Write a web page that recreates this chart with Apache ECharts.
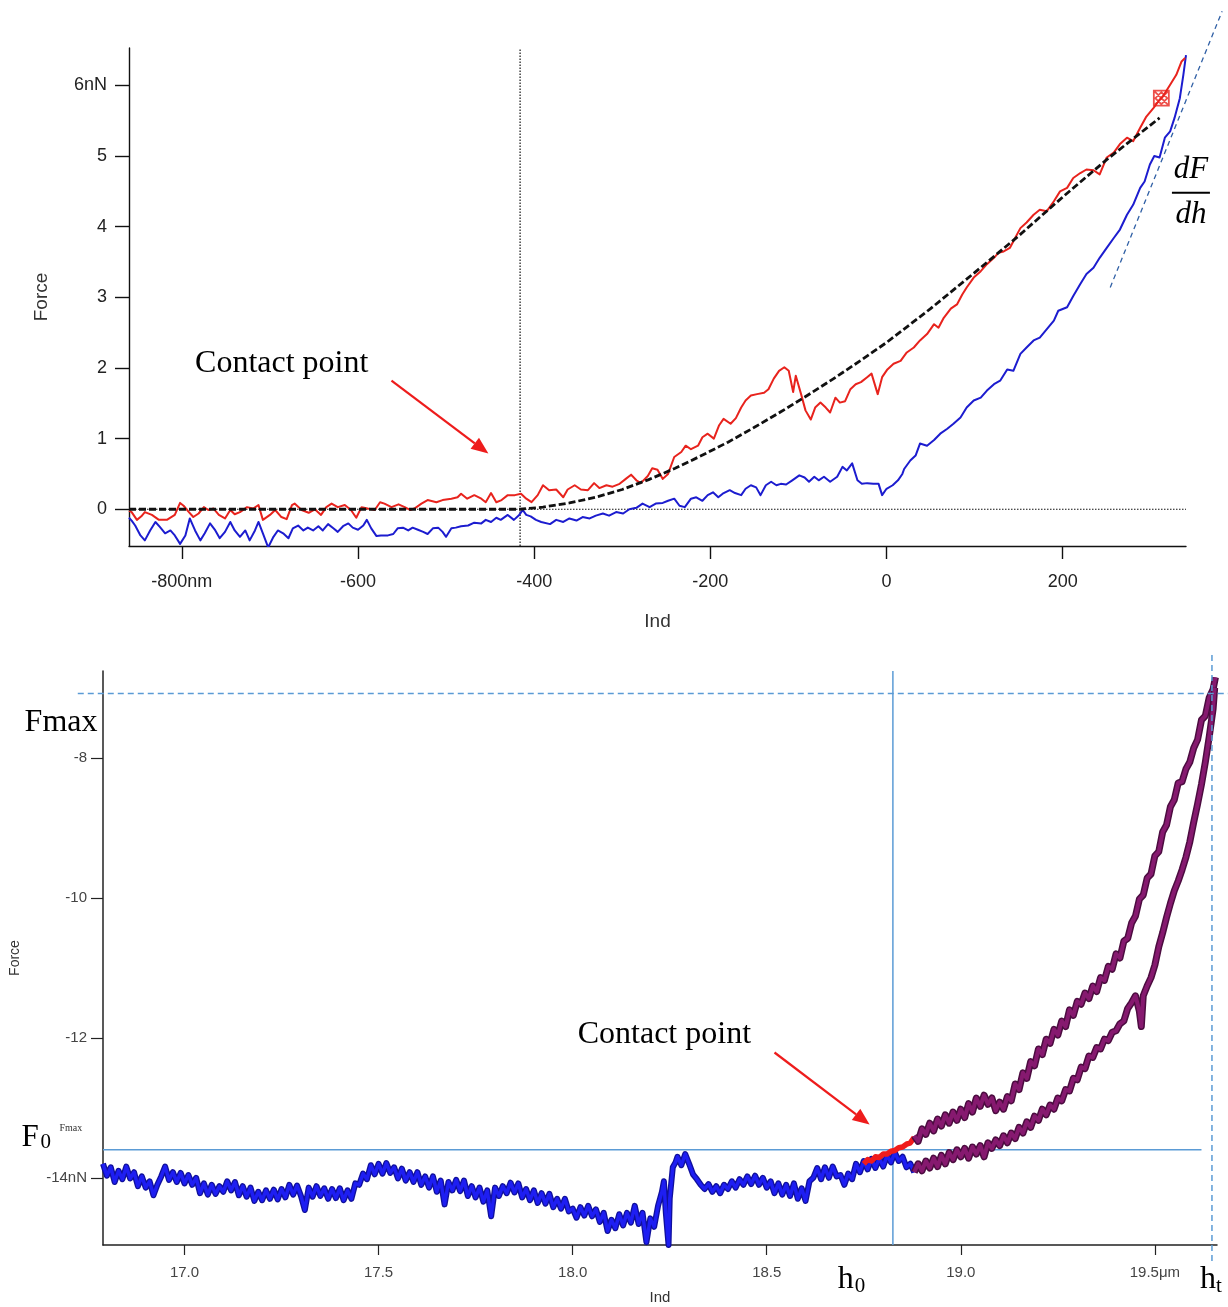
<!DOCTYPE html>
<html>
<head>
<meta charset="utf-8">
<script src="https://cdn.jsdelivr.net/npm/echarts@6/dist/echarts.min.js"></script>
<style>
  html, body { margin: 0; padding: 0; background: #ffffff; }
  #chart { width: 1228px; height: 1307px; }
</style>
</head>
<body>
<div id="chart"></div>
<script>
// ===== Upper panel: force (nN) vs indentation (nm) =====
const topIndTicks = [-800, -600, -400, -200, 0, 200];
const topForceTicks = [0, 1, 2, 3, 4, 5, 6];
const topIndRange = [-860, 340];
const topForceRange = [-0.52, 6.53];

// approach curve (red)
const approachTop = [
  [-860,-0.02],[-857,-0.04],[-851,-0.15],[-846,-0.1],[-842,-0.04],[-834,-0.08],[-826,-0.15],[-817,-0.15],[-808,-0.08],[-802,0.09],
  [-798,0.05],[-792,-0.04],[-787,-0.11],[-781,-0.06],[-775,0.03],[-770,-0.01],[-764,0.01],[-758,-0.08],[-751,-0.13],[-745,-0.01],
  [-740,-0.07],[-734,-0.04],[-726,0.03],[-719,0.01],[-713,0.06],[-708,-0.15],[-700,-0.08],[-694,-0.01],[-687,-0.11],[-681,-0.14],
  [-675,0.06],[-672,0.08],[-664,-0.01],[-656,-0.05],[-649,0],[-642,-0.08],[-636,0.03],[-630,0.08],[-623,0.03],[-615,0.06],
  [-608,-0.01],[-602,-0.12],[-596,0.03],[-589,0.01],[-581,-0.01],[-575,0.1],[-570,0.08],[-562,0.03],[-554,0.07],[-547,0.03],
  [-541,-0.01],[-536,0.01],[-528,0.08],[-521,0.13],[-511,0.1],[-504,0.13],[-494,0.15],[-487,0.17],[-483,0.22],[-476,0.15],
  [-468,0.2],[-460,0.15],[-455,0.1],[-449,0.23],[-443,0.1],[-437,0.13],[-430,0.2],[-422,0.2],[-415,0.22],[-409,0.15],
  [-403,0.1],[-396,0.2],[-390,0.34],[-383,0.27],[-375,0.28],[-367,0.17],[-362,0.28],[-354,0.34],[-347,0.28],[-339,0.27],
  [-332,0.37],[-326,0.3],[-318,0.34],[-311,0.32],[-303,0.36],[-296,0.43],[-290,0.49],[-284,0.41],[-279,0.37],[-271,0.47],
  [-266,0.58],[-260,0.56],[-254,0.43],[-248,0.5],[-241,0.74],[-233,0.81],[-228,0.9],[-222,0.85],[-214,0.9],[-209,1.02],
  [-203,1.07],[-196,1.0],[-190,1.19],[-185,1.28],[-177,1.21],[-171,1.29],[-165,1.44],[-160,1.54],[-154,1.61],[-147,1.63],
  [-139,1.65],[-134,1.7],[-128,1.85],[-122,1.96],[-116,2.01],[-111,1.96],[-106,1.66],[-103,1.89],[-97,1.63],[-92,1.4],
  [-86,1.27],[-81,1.44],[-75,1.51],[-69,1.44],[-64,1.37],[-58,1.58],[-53,1.51],[-47,1.53],[-41,1.7],[-35,1.77],
  [-29,1.8],[-22,1.87],[-17,1.92],[-10,1.63],[-5,1.87],[1,1.98],[8,2.06],[16,2.1],[23,2.22],[31,2.29],
  [38,2.39],[46,2.48],[54,2.62],[59,2.57],[65,2.71],[73,2.84],[80,2.9],[86,3.04],[91,3.14],[99,3.28],
  [107,3.37],[114,3.47],[122,3.56],[127,3.63],[133,3.65],[140,3.7],[146,3.84],[152,3.98],[159,4.06],[167,4.17],
  [174,4.24],[182,4.22],[190,4.36],[197,4.5],[205,4.55],[212,4.69],[220,4.76],[227,4.81],[235,4.8],[242,4.74],
  [250,4.98],[258,5.05],[265,5.17],[273,5.26],[280,5.21],[288,5.4],[295,5.56],[303,5.68],[309,5.78],[314,5.85],
  [322,6.01],[329,6.15],[335,6.34],[339,6.39]
];

// retract curve (blue)
const retractTop = [
  [-860,-0.12],[-857,-0.16],[-853,-0.23],[-847,-0.37],[-842,-0.44],[-836,-0.3],[-830,-0.18],[-825,-0.25],[-819,-0.34],[-813,-0.3],
  [-808,-0.37],[-802,-0.49],[-796,-0.37],[-791,-0.13],[-785,-0.3],[-779,-0.44],[-774,-0.34],[-768,-0.2],[-762,-0.3],[-757,-0.41],
  [-751,-0.32],[-745,-0.18],[-740,-0.3],[-734,-0.39],[-728,-0.3],[-723,-0.44],[-717,-0.3],[-713,-0.18],[-708,-0.34],[-702,-0.54],
  [-696,-0.39],[-691,-0.3],[-685,-0.34],[-679,-0.41],[-674,-0.27],[-668,-0.23],[-662,-0.3],[-657,-0.26],[-651,-0.3],[-645,-0.24],
  [-640,-0.3],[-634,-0.21],[-628,-0.27],[-623,-0.32],[-617,-0.24],[-611,-0.2],[-606,-0.26],[-600,-0.29],[-594,-0.23],[-590,-0.15],
  [-585,-0.27],[-579,-0.38],[-574,-0.37],[-566,-0.37],[-560,-0.35],[-555,-0.27],[-549,-0.26],[-543,-0.3],[-538,-0.26],[-532,-0.29],
  [-526,-0.32],[-521,-0.35],[-515,-0.27],[-509,-0.26],[-504,-0.32],[-500,-0.39],[-494,-0.27],[-489,-0.26],[-483,-0.24],[-475,-0.23],
  [-468,-0.19],[-460,-0.2],[-455,-0.15],[-449,-0.18],[-443,-0.12],[-438,-0.15],[-430,-0.08],[-423,-0.15],[-417,-0.08],[-413,-0.01],
  [-409,-0.08],[-404,-0.1],[-398,-0.15],[-392,-0.18],[-390,-0.18],[-382,-0.21],[-375,-0.15],[-367,-0.18],[-360,-0.13],[-352,-0.16],
  [-345,-0.11],[-337,-0.13],[-330,-0.09],[-322,-0.06],[-315,-0.09],[-307,-0.04],[-299,-0.06],[-292,0],[-284,0.02],[-277,0.08],
  [-269,0.03],[-262,0.08],[-254,0.09],[-248,0.12],[-241,0.15],[-235,0.05],[-229,0.03],[-222,0.15],[-216,0.17],[-209,0.12],
  [-203,0.2],[-197,0.24],[-191,0.17],[-186,0.22],[-178,0.27],[-172,0.23],[-165,0.2],[-160,0.29],[-154,0.34],[-148,0.31],
  [-143,0.2],[-137,0.34],[-131,0.39],[-125,0.34],[-120,0.36],[-114,0.35],[-107,0.41],[-99,0.48],[-93,0.45],[-88,0.39],
  [-82,0.46],[-77,0.41],[-71,0.46],[-64,0.39],[-56,0.46],[-50,0.6],[-45,0.55],[-39,0.65],[-33,0.41],[-28,0.36],
  [-22,0.37],[-15,0.36],[-9,0.36],[-5,0.2],[0,0.29],[7,0.34],[13,0.41],[18,0.5],[20,0.57],[27,0.69],
  [33,0.76],[38,0.93],[46,0.9],[54,0.98],[61,1.07],[69,1.14],[76,1.21],[84,1.3],[91,1.44],[99,1.54],
  [107,1.58],[114,1.68],[122,1.77],[129,1.82],[137,1.98],[144,1.96],[152,2.2],[159,2.29],[167,2.39],[174,2.43],
  [182,2.55],[190,2.67],[195,2.81],[205,2.86],[212,3.02],[220,3.19],[227,3.33],[235,3.42],[242,3.56],[250,3.7],
  [258,3.84],[265,3.96],[273,4.17],[280,4.31],[288,4.55],[293,4.64],[299,4.88],[304,5.0],[310,4.98],[316,5.26],
  [322,5.35],[327,5.54],[333,5.82],[337,6.15],[340,6.43]
];

// contact-model fit (black dashed)
const hertzFit = [
  [-860,0],[-416,0],[-390,0.03],[-360,0.09],[-330,0.17],[-300,0.28],[-270,0.42],[-240,0.58],[-210,0.76],[-180,0.95],
  [-150,1.16],[-120,1.38],[-90,1.61],[-60,1.85],[-30,2.1],[0,2.36],[50,2.84],[100,3.35],[150,3.87],[200,4.42],
  [250,4.95],[310,5.54]
];

const topContactInd = -416;
const topTangent = [[254, 3.14], [381, 7.05]];
const topMaxMarker = [[312, 5.82]];

// ===== Lower panel: force (nN) vs indentation (µm) =====
const lowIndTicks = [17.0, 17.5, 18.0, 18.5, 19.0, 19.5];
const lowForceTicks = [-14, -12, -10, -8];
const lowIndRange = [16.79, 19.66];
const lowForceRange = [-14.96, -6.76];

// baseline before contact (blue)
const lowBaseline = [
  [16.79,-13.80],[16.80,-13.97],[16.81,-13.85],[16.82,-14.06],[16.83,-13.90],[16.84,-14.02],[16.85,-13.84],[16.86,-14.01],[16.87,-13.92],[16.88,-14.12],
  [16.89,-13.98],[16.90,-14.14],[16.91,-14.05],[16.92,-14.25],[16.93,-14.10],[16.94,-13.98],[16.95,-13.84],[16.96,-14.03],[16.97,-13.92],[16.98,-14.06],
  [16.99,-13.93],[17.00,-14.08],[17.01,-13.96],[17.02,-14.10],[17.03,-14.00],[17.04,-14.22],[17.05,-14.08],[17.06,-14.24],[17.07,-14.10],[17.08,-14.23],
  [17.09,-14.12],[17.10,-14.20],[17.11,-14.05],[17.12,-14.18],[17.13,-14.06],[17.14,-14.25],[17.15,-14.12],[17.16,-14.27],[17.17,-14.14],[17.18,-14.33],
  [17.19,-14.20],[17.20,-14.32],[17.21,-14.18],[17.22,-14.30],[17.23,-14.17],[17.24,-14.31],[17.25,-14.16],[17.26,-14.28],[17.27,-14.10],[17.28,-14.24],
  [17.29,-14.11],[17.30,-14.26],[17.31,-14.46],[17.32,-14.14],[17.33,-14.27],[17.34,-14.12],[17.35,-14.26],[17.36,-14.15],[17.37,-14.30],[17.38,-14.16],
  [17.39,-14.29],[17.40,-14.15],[17.41,-14.32],[17.42,-14.18],[17.43,-14.30],[17.44,-14.08],[17.45,-14.10],[17.46,-13.94],[17.47,-14.02],[17.48,-13.82],
  [17.49,-13.95],[17.50,-13.80],[17.51,-13.94],[17.52,-13.79],[17.53,-13.93],[17.54,-13.85],[17.55,-14.01],[17.56,-13.87],[17.57,-14.04],[17.58,-13.92],
  [17.59,-14.06],[17.60,-13.92],[17.61,-14.10],[17.62,-13.98],[17.63,-14.14],[17.64,-13.98],[17.65,-14.20],[17.66,-14.04],[17.67,-14.38],[17.68,-14.06],
  [17.69,-14.18],[17.70,-14.03],[17.71,-14.19],[17.72,-14.04],[17.73,-14.26],[17.74,-14.12],[17.75,-14.28],[17.76,-14.14],[17.77,-14.34],[17.78,-14.18],
  [17.79,-14.55],[17.80,-14.14],[17.81,-14.26],[17.82,-14.12],[17.83,-14.22],[17.84,-14.07],[17.85,-14.21],[17.86,-14.08],[17.87,-14.28],[17.88,-14.16],
  [17.89,-14.32],[17.90,-14.18],[17.91,-14.36],[17.92,-14.22],[17.93,-14.37],[17.94,-14.23],[17.95,-14.42],[17.96,-14.30],[17.97,-14.44],[17.98,-14.30],
  [17.99,-14.48],[18.00,-14.44],[18.01,-14.57],[18.02,-14.42],[18.03,-14.54],[18.04,-14.40],[18.05,-14.55],[18.06,-14.45],[18.07,-14.63],[18.08,-14.50],
  [18.09,-14.76],[18.10,-14.60],[18.11,-14.72],[18.12,-14.52],[18.13,-14.68],[18.14,-14.50],[18.15,-14.64],[18.16,-14.40],[18.17,-14.66],[18.18,-14.50],
  [18.19,-14.92],[18.20,-14.58],[18.21,-14.70],[18.22,-14.40],[18.23,-14.20],[18.235,-14.05],[18.24,-14.50],[18.247,-14.96],[18.25,-14.30],[18.258,-13.85],
  [18.265,-13.78],[18.27,-13.70],[18.28,-13.82],[18.29,-13.66],[18.30,-13.80],[18.31,-13.95],[18.32,-14.02],[18.33,-14.10],[18.34,-14.16],[18.35,-14.09],
  [18.36,-14.20],[18.37,-14.12],[18.38,-14.22],[18.39,-14.10],[18.40,-14.16],[18.41,-14.05],[18.42,-14.14],[18.43,-14.02],[18.44,-14.10],[18.45,-13.98],
  [18.46,-14.09],[18.47,-13.97],[18.48,-14.10],[18.49,-14.00],[18.50,-14.14],[18.51,-14.05],[18.52,-14.22],[18.53,-14.08],[18.54,-14.24],[18.55,-14.10],
  [18.56,-14.26],[18.57,-14.08],[18.58,-14.30],[18.59,-14.15],[18.60,-14.33],[18.61,-14.05],[18.62,-14.00],[18.63,-13.86],[18.64,-14.02],[18.65,-13.85],
  [18.66,-14.00],[18.67,-13.84],[18.68,-13.98],[18.69,-13.96],[18.70,-14.10],[18.71,-13.94],[18.72,-14.02],[18.73,-13.80],[18.74,-13.92],[18.75,-13.76],
  [18.76,-13.88],[18.77,-13.73],[18.78,-13.86],[18.79,-13.72],[18.80,-13.84],[18.81,-13.68],[18.82,-13.78],[18.83,-13.64],[18.84,-13.76],[18.85,-13.70],
  [18.86,-13.85],[18.87,-13.80],[18.88,-13.92]
];

// approach around the contact point (red)
const lowContact = [
  [18.75,-13.80],[18.76,-13.74],[18.77,-13.76],[18.78,-13.70],[18.79,-13.71],[18.80,-13.66],[18.81,-13.66],[18.82,-13.62],[18.83,-13.61],[18.84,-13.57],
  [18.85,-13.56],[18.86,-13.52],[18.87,-13.50],[18.88,-13.42]
];

// loading branch after contact (purple, upper)
const lowLoading = [
  [18.88,-13.40],[18.89,-13.48],[18.90,-13.30],[18.91,-13.38],[18.92,-13.22],[18.93,-13.33],[18.94,-13.16],[18.95,-13.26],[18.96,-13.10],[18.97,-13.22],
  [18.98,-13.06],[18.99,-13.18],[19.00,-13.02],[19.01,-13.14],[19.02,-12.94],[19.03,-13.06],[19.04,-12.86],[19.05,-12.98],[19.06,-12.82],[19.07,-12.95],
  [19.08,-12.86],[19.09,-13.04],[19.10,-12.92],[19.11,-13.02],[19.12,-12.84],[19.13,-12.90],[19.14,-12.66],[19.15,-12.74],[19.16,-12.50],[19.17,-12.58],
  [19.18,-12.34],[19.19,-12.40],[19.20,-12.16],[19.21,-12.24],[19.22,-12.02],[19.23,-12.08],[19.24,-11.88],[19.25,-11.96],[19.26,-11.76],[19.27,-11.84],
  [19.28,-11.60],[19.29,-11.68],[19.30,-11.48],[19.31,-11.52],[19.32,-11.36],[19.33,-11.44],[19.34,-11.26],[19.35,-11.34],[19.36,-11.14],[19.37,-11.18],
  [19.38,-10.98],[19.39,-11.02],[19.40,-10.80],[19.41,-10.86],[19.42,-10.62],[19.43,-10.58],[19.44,-10.36],[19.45,-10.26],[19.46,-10.02],[19.47,-9.96],
  [19.48,-9.72],[19.49,-9.66],[19.50,-9.40],[19.51,-9.34],[19.52,-9.06],[19.53,-8.96],[19.54,-8.70],[19.55,-8.60],[19.56,-8.36],[19.57,-8.34],
  [19.58,-8.16],[19.59,-8.06],[19.60,-7.86],[19.61,-7.74],[19.62,-7.46],[19.63,-7.40],[19.64,-7.14],[19.65,-7.02],[19.656,-6.85]
];

// unloading branch (purple, lower)
const lowUnloading = [
  [18.88,-13.92],[18.89,-13.80],[18.90,-13.90],[18.91,-13.76],[18.92,-13.86],[18.93,-13.72],[18.94,-13.84],[18.95,-13.68],[18.96,-13.80],[18.97,-13.64],
  [18.98,-13.74],[18.99,-13.60],[19.00,-13.70],[19.01,-13.58],[19.02,-13.72],[19.03,-13.56],[19.04,-13.66],[19.05,-13.54],[19.06,-13.70],[19.07,-13.50],
  [19.08,-13.58],[19.09,-13.46],[19.10,-13.54],[19.11,-13.40],[19.12,-13.50],[19.13,-13.36],[19.14,-13.44],[19.15,-13.28],[19.16,-13.36],[19.17,-13.20],
  [19.18,-13.28],[19.19,-13.12],[19.20,-13.18],[19.21,-13.02],[19.22,-13.10],[19.23,-12.96],[19.24,-13.02],[19.25,-12.86],[19.26,-12.90],[19.27,-12.74],
  [19.28,-12.76],[19.29,-12.58],[19.30,-12.60],[19.31,-12.42],[19.32,-12.44],[19.33,-12.26],[19.34,-12.28],[19.35,-12.14],[19.36,-12.16],[19.37,-12.02],
  [19.38,-12.04],[19.39,-11.92],[19.40,-11.90],[19.41,-11.80],[19.42,-11.76],[19.43,-11.58],[19.44,-11.50],[19.45,-11.40],[19.46,-11.62],[19.465,-11.84],
  [19.47,-11.40],[19.48,-11.26],[19.49,-11.14],[19.50,-10.96],[19.51,-10.70],[19.52,-10.50],[19.53,-10.28],[19.54,-10.08],[19.55,-9.90],[19.56,-9.76],
  [19.57,-9.60],[19.58,-9.42],[19.59,-9.20],[19.60,-8.92],[19.61,-8.66],[19.62,-8.38],[19.63,-8.06],[19.64,-7.70],[19.65,-7.30],[19.654,-7.00]
];

const h0Ind = 18.825;
const htInd = 19.647;
const f0Force = -13.6;
const fmaxForce = -7.08;

// ===== chart =====
const chart = echarts.init(document.getElementById('chart'), null, { renderer: 'canvas' });

const sans = 'Liberation Sans, Arial, sans-serif';
const serif = 'Liberation Serif, Times New Roman, serif';

function lineSeries(name, data, xi, color, width, type, extra) {
  return Object.assign({
    name: name, type: 'line', xAxisIndex: xi, yAxisIndex: xi, data: data,
    showSymbol: false, symbol: 'none', animation: false, silent: true,
    lineStyle: { color: color, width: width, type: type || 'solid', join: 'round' }
  }, extra || {});
}

const option = {
  backgroundColor: '#ffffff',
  animation: false,
  grid: [
    { left: 129, top: 48, width: 1057, height: 498 },
    { left: 103, top: 671, width: 1114, height: 574 }
  ],
  xAxis: [
    {
      type: 'value', gridIndex: 0, min: topIndRange[0], max: topIndRange[1],
      name: 'Ind', nameLocation: 'middle', nameGap: 66,
      nameTextStyle: { fontFamily: sans, fontSize: 19, color: '#333' },
      axisLine: { onZero: false, lineStyle: { color: '#111', width: 1.4 } },
      axisTick: { length: 13, customValues: topIndTicks, lineStyle: { color: '#111', width: 1.4 } },
      axisLabel: { customValues: topIndTicks, margin: 27, fontFamily: sans, fontSize: 18, color: '#222',
        formatter: v => v === -800 ? '-800nm' : String(v) },
      splitLine: { show: false }
    },
    {
      type: 'value', gridIndex: 1, min: lowIndRange[0], max: lowIndRange[1],
      name: 'Ind', nameLocation: 'middle', nameGap: 45,
      nameTextStyle: { fontFamily: sans, fontSize: 15, color: '#333' },
      axisLine: { onZero: false, lineStyle: { color: '#222', width: 1.5 } },
      axisTick: { length: 10, customValues: lowIndTicks, lineStyle: { color: '#222', width: 1.2 } },
      axisLabel: { customValues: lowIndTicks, margin: 20, fontFamily: sans, fontSize: 15, color: '#444',
        formatter: v => (Math.abs(v - 19.5) < 1e-9 ? '19.5\u03bcm' : v.toFixed(1)) },
      splitLine: { show: false }
    }
  ],
  yAxis: [
    {
      type: 'value', gridIndex: 0, min: topForceRange[0], max: topForceRange[1],
      name: 'Force', nameLocation: 'middle', nameGap: 78, nameRotate: 90,
      nameTextStyle: { fontFamily: sans, fontSize: 19, color: '#333' },
      axisLine: { onZero: false, lineStyle: { color: '#111', width: 1.4 } },
      axisTick: { length: 14, customValues: topForceTicks, lineStyle: { color: '#111', width: 1.4 } },
      axisLabel: { customValues: topForceTicks, margin: 22, fontFamily: sans, fontSize: 18, color: '#222',
        formatter: v => v === 6 ? '6nN' : String(v) },
      splitLine: { show: false }
    },
    {
      type: 'value', gridIndex: 1, min: lowForceRange[0], max: lowForceRange[1],
      name: 'Force', nameLocation: 'middle', nameGap: 81, nameRotate: 90,
      nameTextStyle: { fontFamily: sans, fontSize: 14, color: '#333' },
      axisLine: { onZero: false, lineStyle: { color: '#222', width: 1.5 } },
      axisTick: { length: 12, customValues: lowForceTicks, lineStyle: { color: '#222', width: 1.2 } },
      axisLabel: { customValues: lowForceTicks, margin: 16, fontFamily: sans, fontSize: 15, color: '#444',
        formatter: v => v === -14 ? '-14nN' : String(v) },
      splitLine: { show: false }
    }
  ],
  series: [
    // upper panel guides
    lineSeries('zero', [[topIndRange[0], 0], [topIndRange[1], 0]], 0, '#111', 1.2, [1.5, 1.5]),
    lineSeries('contact', [[topContactInd, topForceRange[0]], [topContactInd, topForceRange[1]]], 0, '#111', 1.2, [1.5, 1.5]),
    lineSeries('retract', retractTop, 0, '#1c1ccf', 2),
    lineSeries('approach', approachTop, 0, '#e8231d', 2),
    lineSeries('fit', hertzFit, 0, '#111', 2.8, [7, 3]),
    {
      name: 'max', type: 'scatter', xAxisIndex: 0, yAxisIndex: 0, data: topMaxMarker, silent: true,
      symbol: 'path://M0,0H10V10H0Z M0,0L10,10 M10,0L0,10 M5,1L9,5L5,9L1,5Z', symbolSize: 15,
      itemStyle: { color: 'rgba(0,0,0,0)', borderColor: '#e8231d', borderWidth: 1.8 }, z: 5
    },
    // lower panel guides
    lineSeries('F0', [[lowIndRange[0], f0Force], [19.62, f0Force]], 1, '#5b9bd5', 1.5),
    lineSeries('h0', [[h0Ind, lowForceRange[0]], [h0Ind, lowForceRange[1]]], 1, '#5b9bd5', 1.5),
    // lower panel curves: dark outer stroke with a brighter core for the noisy bands
    lineSeries('baseline edge', lowBaseline, 1, '#10109c', 6),
    lineSeries('baseline', lowBaseline, 1, '#1e1ef2', 3.4),
    lineSeries('contact approach', lowContact, 1, '#f01c1c', 5.5),
    lineSeries('loading edge', lowLoading, 1, '#4c0c40', 7),
    lineSeries('loading', lowLoading, 1, '#86196f', 4),
    lineSeries('unloading edge', lowUnloading, 1, '#4c0c40', 7),
    lineSeries('unloading', lowUnloading, 1, '#86196f', 4)
  ]
};

chart.setOption(option);

// ===== annotations anchored to data coordinates =====
function px(gi, pt) { return chart.convertToPixel({ xAxisIndex: gi, yAxisIndex: gi }, pt); }

function arrow(p0, p1, color) {
  const dx = p1[0] - p0[0], dy = p1[1] - p0[1];
  const len = Math.sqrt(dx * dx + dy * dy);
  const ux = dx / len, uy = dy / len;
  const headL = 17, headW = 7;
  const bx = p1[0] - ux * headL, by = p1[1] - uy * headL;
  return [
    { type: 'line', shape: { x1: p0[0], y1: p0[1], x2: bx, y2: by }, style: { stroke: color, lineWidth: 2.2 }, silent: true },
    { type: 'polygon', shape: { points: [[p1[0], p1[1]], [bx - uy * headW, by + ux * headW], [bx + uy * headW, by - ux * headW]] },
      style: { fill: color }, silent: true }
  ];
}

function guide(gi, a, b, color, width, dash) {
  const p = px(gi, a), q = px(gi, b);
  return { type: 'line', shape: { x1: p[0], y1: p[1], x2: q[0], y2: q[1] }, silent: true, z: 50,
    style: { stroke: color, lineWidth: width, lineDash: dash } };
}

function text(p, str, size, opts) {
  return {
    type: 'text', x: p[0], y: p[1], silent: true, z: 60,
    style: Object.assign({ text: str, fontFamily: serif, fontSize: size, fill: '#000',
      textAlign: 'left', textVerticalAlign: 'middle' }, opts || {})
  };
}

const g = [];
// upper panel
g.push(guide(0, topTangent[0], topTangent[1], '#2f5fa5', 1.3, [5, 4]));
g.push(text(px(0, [-785, 2.06]), 'Contact point', 32));
g.push(...arrow(px(0, [-562, 1.82]), px(0, [-452, 0.79]), '#ee1c1c'));
const frac = px(0, [345.6, 4.48]);
g.push(text([frac[0], frac[1] - 23], 'dF', 31, { textAlign: 'center', fontStyle: 'italic' }));
g.push({ type: 'line', shape: { x1: frac[0] - 19, y1: frac[1], x2: frac[0] + 19, y2: frac[1] },
  style: { stroke: '#000', lineWidth: 2 }, silent: true });
g.push(text([frac[0], frac[1] + 22], 'dh', 31, { textAlign: 'center', fontStyle: 'italic' }));

// lower panel
g.push(guide(1, [16.725, fmaxForce], [19.69, fmaxForce], '#5b9bd5', 1.5, [6, 4]));
g.push(guide(1, [htInd, -6.53], [htInd, -15.2], '#5b9bd5', 1.5, [6, 4]));
g.push(text(px(1, [18.013, -11.96]), 'Contact point', 32));
g.push(...arrow(px(1, [18.52, -12.21]), px(1, [18.765, -13.24]), '#ee1c1c'));
g.push(text(px(1, [16.588, -7.49]), 'Fmax', 32));
const f0p = px(1, [16.58, -13.43]);
g.push(text(f0p, 'F', 31));
g.push(text([f0p[0] + 19, f0p[1] + 5], '0', 21));
g.push(text(px(1, [16.678, -13.29]), 'Fmax', 10, { fill: '#333' }));
const h0p = px(1, [18.683, -15.46]);
g.push(text(h0p, 'h', 32));
g.push(text([h0p[0] + 17, h0p[1] + 6], '0', 21));
const htp = px(1, [19.616, -15.46]);
g.push(text(htp, 'h', 32));
g.push(text([htp[0] + 16, htp[1] + 6], 't', 21));

chart.setOption({ graphic: g });
</script>
</body>
</html>
